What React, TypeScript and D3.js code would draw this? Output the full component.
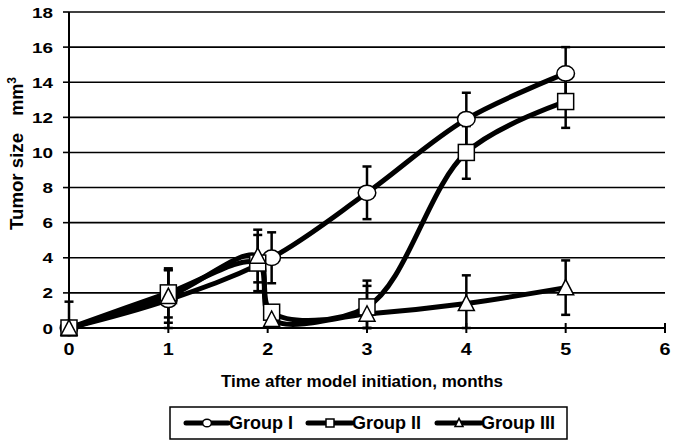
import React from "react";
import * as d3 from "d3";

// tick labels
const xTicks = [0, 1, 2, 3, 4, 5, 6];
const yTicks = [0, 2, 4, 6, 8, 10, 12, 14, 16, 18];

// series (x in months, y in mm3, err = +/- bar)
const group1X = [0, 1, 2.04, 3, 4, 5];
const group1Y = [0, 1.6, 4.0, 7.7, 11.9, 14.5];
const group1Err = [1.5, 1.7, 1.45, 1.5, 1.5, 1.5];

const group2X = [0, 1, 1.9, 2.04, 3, 4, 5];
const group2Y = [0, 2.0, 3.7, 0.9, 1.2, 10.0, 12.9];
const group2Err = [0, 1.4, 1.6, 0, 1.5, 1.5, 1.5];

const group3X = [0, 1, 1.9, 2.04, 3, 4, 5];
const group3Y = [0, 1.8, 4.1, 0.5, 0.8, 1.4, 2.3];
const group3Err = [0, 1.5, 1.5, 0, 1.6, 1.6, 1.55];

const seriesNames = ["Group I", "Group II", "Group III"];
const markerTypes = ["circle", "square", "triangle"];

const FONT = "'Liberation Sans', Arial, sans-serif";

const Marker = ({ type, x, y, s }: { type: string; x: number; y: number; s: number }) => {
  if (type === "circle")
    return <ellipse cx={x} cy={y} rx={s * 0.55} ry={s * 0.48} fill="#fff" stroke="#000" strokeWidth={1.5} />;
  if (type === "square")
    return <rect x={x - s / 2} y={y - s / 2} width={s} height={s} fill="#fff" stroke="#000" strokeWidth={1.5} />;
  const h = s * 0.9;
  return (
    <path
      d={`M${x},${y - h / 2 - 1}L${x + s / 2},${y + h / 2}L${x - s / 2},${y + h / 2}Z`}
      fill="#fff"
      stroke="#000"
      strokeWidth={1.5}
    />
  );
};

const App = () => {
  const x = d3.scaleLinear().domain([0, 6]).range([69, 665]);
  const y = d3.scaleLinear().domain([0, 18]).range([328, 12]);

  const series = [
    { xs: group1X, ys: group1Y, err: group1Err },
    { xs: group2X, ys: group2Y, err: group2Err },
    { xs: group3X, ys: group3Y, err: group3Err },
  ];

  const line = d3
    .line<[number, number]>()
    .x((d) => x(d[0]))
    .y((d) => y(d[1]))
    .curve(d3.curveCatmullRom.alpha(0.5));

  const legendItems = [
    { x0: 186, x1: 228, tx: 229 },
    { x0: 308, x1: 352, tx: 352 },
    { x0: 437, x1: 481, tx: 481 },
  ];

  return (
    <svg width={677} height={445} style={{ position: "absolute", left: 0, top: 0, background: "#fff" }}>
      {/* grid */}
      {yTicks.map((t) => (
        <line key={"g" + t} x1={x(0)} x2={x(6)} y1={y(t)} y2={y(t)} stroke="#000" strokeWidth={1.6} />
      ))}
      {/* axes */}
      <line x1={x(0)} x2={x(0)} y1={y(18)} y2={y(0)} stroke="#000" strokeWidth={2} />
      <line x1={x(0)} x2={x(6)} y1={y(0)} y2={y(0)} stroke="#000" strokeWidth={2} />
      {yTicks.map((t) => (
        <g key={"y" + t}>
          <line x1={x(0) - 6} x2={x(0)} y1={y(t)} y2={y(t)} stroke="#000" strokeWidth={1.6} />
          <text
            x={53}
            y={y(t)}
            dy="0.36em"
            textAnchor="end"
            fontFamily={FONT}
            fontWeight="bold"
            fontSize={15.5}
            textLength={String(t).length * 10.5}
            lengthAdjust="spacingAndGlyphs"
          >
            {t}
          </text>
        </g>
      ))}
      {xTicks.map((t) => (
        <g key={"x" + t}>
          <line x1={x(t)} x2={x(t)} y1={y(0) - 5} y2={y(0) + 5} stroke="#000" strokeWidth={2} />
          <text
            x={x(t)}
            y={355}
            textAnchor="middle"
            fontFamily={FONT}
            fontWeight="bold"
            fontSize={16}
            textLength={11}
            lengthAdjust="spacingAndGlyphs"
          >
            {t}
          </text>
        </g>
      ))}
      {/* axis titles */}
      <text x={362} y={387} textAnchor="middle" fontFamily={FONT} fontWeight="bold" fontSize={17}>
        Time after model initiation, months
      </text>
      <text
        transform="translate(23,230) rotate(-90)"
        fontFamily={FONT}
        fontWeight="bold"
        fontSize={18}
        textLength={97}
        lengthAdjust="spacingAndGlyphs"
      >
        Tumor size
      </text>
      <text transform="translate(23,77) rotate(-90)" textAnchor="end" fontFamily={FONT} fontWeight="bold" fontSize={18}>
        mm
        <tspan fontSize={12} dy={-7}>
          3
        </tspan>
      </text>

      {/* lines */}
      {series.map((s, i) => (
        <path
          key={"l" + i}
          d={line(s.xs.map((v, j) => [v, s.ys[j]] as [number, number])) || ""}
          fill="none"
          stroke="#000"
          strokeWidth={5}
          strokeLinejoin="round"
        />
      ))}
      {/* error bars */}
      {series.map((s, i) =>
        s.xs.map((v, j) => {
          const e = s.err[j];
          if (!e) return null;
          const cx = x(v);
          const top = y(s.ys[j] + e);
          const bot = y(Math.max(0, s.ys[j] - e));
          return (
            <g key={"e" + i + "-" + j} stroke="#000" strokeWidth={2.5}>
              <line x1={cx} x2={cx} y1={top} y2={bot} />
              <line x1={cx - 4.5} x2={cx + 4.5} y1={top} y2={top} />
              <line x1={cx - 4.5} x2={cx + 4.5} y1={bot} y2={bot} />
            </g>
          );
        })
      )}
      {/* markers */}
      {series.map((s, i) =>
        s.xs.map((v, j) => <Marker key={"m" + i + "-" + j} type={markerTypes[i]} x={x(v)} y={y(s.ys[j])} s={16} />)
      )}

      {/* legend */}
      <rect x={170} y={407} width={397} height={32} fill="#fff" stroke="#000" strokeWidth={1.5} />
      {legendItems.map((it, i) => (
        <g key={"lg" + i}>
          <line x1={it.x0} x2={it.x1} y1={423} y2={423} stroke="#000" strokeWidth={5} strokeLinecap="round" />
          <Marker type={markerTypes[i]} x={(it.x0 + it.x1) / 2} y={423} s={8} />
          <text x={it.tx} y={423} dy="0.36em" fontFamily={FONT} fontWeight="bold" fontSize={18}>
            {seriesNames[i]}
          </text>
        </g>
      ))}
    </svg>
  );
};

export default App;
